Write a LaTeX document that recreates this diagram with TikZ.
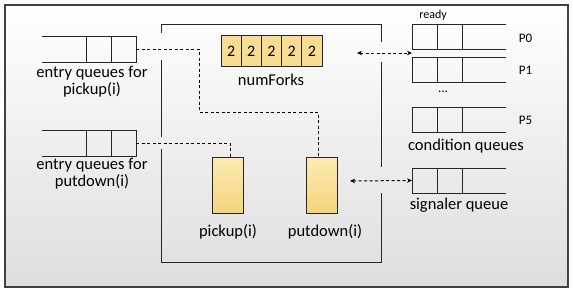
\documentclass[tikz,border=0pt]{standalone}
\usepackage{fontspec}
\setmainfont{Carlito}
\usetikzlibrary{positioning, arrows.meta, calc}

\definecolor{forkfill}{HTML}{F8DC92}
\definecolor{proctop}{HTML}{FCEBB3}
\definecolor{procbot}{HTML}{F4D37E}

\begin{document}
\begin{tikzpicture}[x=1pt, y=-1pt,
    node distance=0pt,
    qcell/.style={rectangle, draw=black!85, line width=1pt, minimum width=25pt, minimum height=25pt, inner sep=0pt, outer sep=0pt},
    fork/.style={rectangle, draw=black!85, line width=1pt, fill=forkfill, minimum width=20.2pt, minimum height=31pt, inner sep=0pt, outer sep=0pt, font=\fontsize{16}{18}\selectfont},
    proc/.style={rectangle, draw=black!85, line width=1pt, top color=proctop, bottom color=procbot, minimum width=31pt, minimum height=56pt, inner sep=0pt, outer sep=0pt},
    txt/.style={align=center, inner sep=0pt, font=\fontsize{16.5}{17}\selectfont},
    small/.style={inner sep=0pt, font=\fontsize{13}{14}\selectfont},
    link/.style={dashed, line width=1pt, dash pattern=on 3pt off 2.5pt},
    biarrow/.style={link, {Stealth[length=5pt, width=4.5pt]}-{Stealth[length=5pt, width=4.5pt]}}
]
    % frame with soft shading
    \shade[top color=white, middle color=white, bottom color=black!13] (5,5) rectangle (568,287);
    \draw[black!75, line width=1.2pt] (5,5) rectangle (568,287);
    \useasboundingbox (0,0) rectangle (573,292);

    % monitor walls, open where the queues come in
    \draw[black!85, line width=1pt] (161,33) -- (161,24) -- (381,24) -- (381,42);
    \draw[black!85, line width=1pt] (381,62) -- (381,167);
    \draw[black!85, line width=1pt] (381,193) -- (381,262) -- (161,262) -- (161,149);
    \draw[black!85, line width=1pt] (161,137) -- (161,60);

    % entry queues
    \node [qcell, minimum height=26pt] (pq1) at (98.5,49) {};
    \node [qcell, minimum height=26pt, right=of pq1] (pq2) {};
    \draw[black!85, line width=1pt] (pq1.north west) -- ++(-44,0);
    \draw[black!85, line width=1pt] (pq1.south west) -- ++(-44,0);
    \node [txt] (pqlbl) at (92,81.5) {entry queues for\\pickup(i)};

    \node [qcell, minimum height=26pt] (dq1) at (98.5,143) {};
    \node [qcell, minimum height=26pt, right=of dq1] (dq2) {};
    \draw[black!85, line width=1pt] (dq1.north west) -- ++(-44,0);
    \draw[black!85, line width=1pt] (dq1.south west) -- ++(-44,0);
    \node [txt] (dqlbl) at (92,173.5) {entry queues for\\putdown(i)};

    % shared data
    \node [fork] (f1) at (231.1,51) {2};
    \node [fork, right=of f1] (f2) {2};
    \node [fork, right=of f2] (f3) {2};
    \node [fork, right=of f3] (f4) {2};
    \node [fork, right=of f4] (f5) {2};
    \node [txt] (forklbl) at (271,80) {numForks};

    % operations
    \node [proc] (pickup) at (227.5,185) {};
    \node [proc] (putdown) at (321.5,185) {};
    \node [txt] (pickuplbl) at (228,232) {pickup(i)};
    \node [txt] (putdownlbl) at (325,232) {putdown(i)};

    % condition queues
    \node [qcell] (c0a) at (424.5,36.5) {};
    \node [qcell, right=of c0a] (c0b) {};
    \draw[black!85, line width=1pt] (c0b.north east) -- ++(44,0);
    \draw[black!85, line width=1pt] (c0b.south east) -- ++(44,0);
    \node [qcell] (c1a) at (424.5,69.5) {};
    \node [qcell, right=of c1a] (c1b) {};
    \draw[black!85, line width=1pt] (c1b.north east) -- ++(44,0);
    \draw[black!85, line width=1pt] (c1b.south east) -- ++(44,0);
    \node [qcell] (c5a) at (424.5,119.5) {};
    \node [qcell, right=of c5a] (c5b) {};
    \draw[black!85, line width=1pt] (c5b.north east) -- ++(44,0);
    \draw[black!85, line width=1pt] (c5b.south east) -- ++(44,0);
    \node [small, font=\fontsize{12}{13}\selectfont] (ready) at (433,15) {ready};
    \node [small] (p0) at (525.5,38) {P0};
    \node [small] (p1) at (525.5,70) {P1};
    \node [small] (dots) at (443,92) {...};
    \node [small] (p5) at (525.5,120) {P5};
    \node [txt] (condlbl) at (466,146) {condition queues};

    % signaler queue
    \node [qcell] (sqa) at (424.5,180.5) {};
    \node [qcell, right=of sqa] (sqb) {};
    \draw[black!85, line width=1pt] (sqb.north east) -- ++(44,0);
    \draw[black!85, line width=1pt] (sqb.south east) -- ++(44,0);
    \node [txt] (siglbl) at (459,205) {signaler queue};

    % connectors
    \coordinate (condin) at ($(c0a.south west)!0.5!(c1a.north west)$);
    \coordinate (monout) at (357,53);
    \coordinate (sigout) at (350,181);
    \draw [link] (pq2.east) -| (199,112) -| ([xshift=-3.5pt]putdown.north);
    \draw [link] (dq2.east) -| ([xshift=2.5pt]pickup.north);
    \draw [biarrow] (monout) -- (condin);
    \draw [biarrow] (sigout) -- (sqa.west);
\end{tikzpicture}
\end{document}
